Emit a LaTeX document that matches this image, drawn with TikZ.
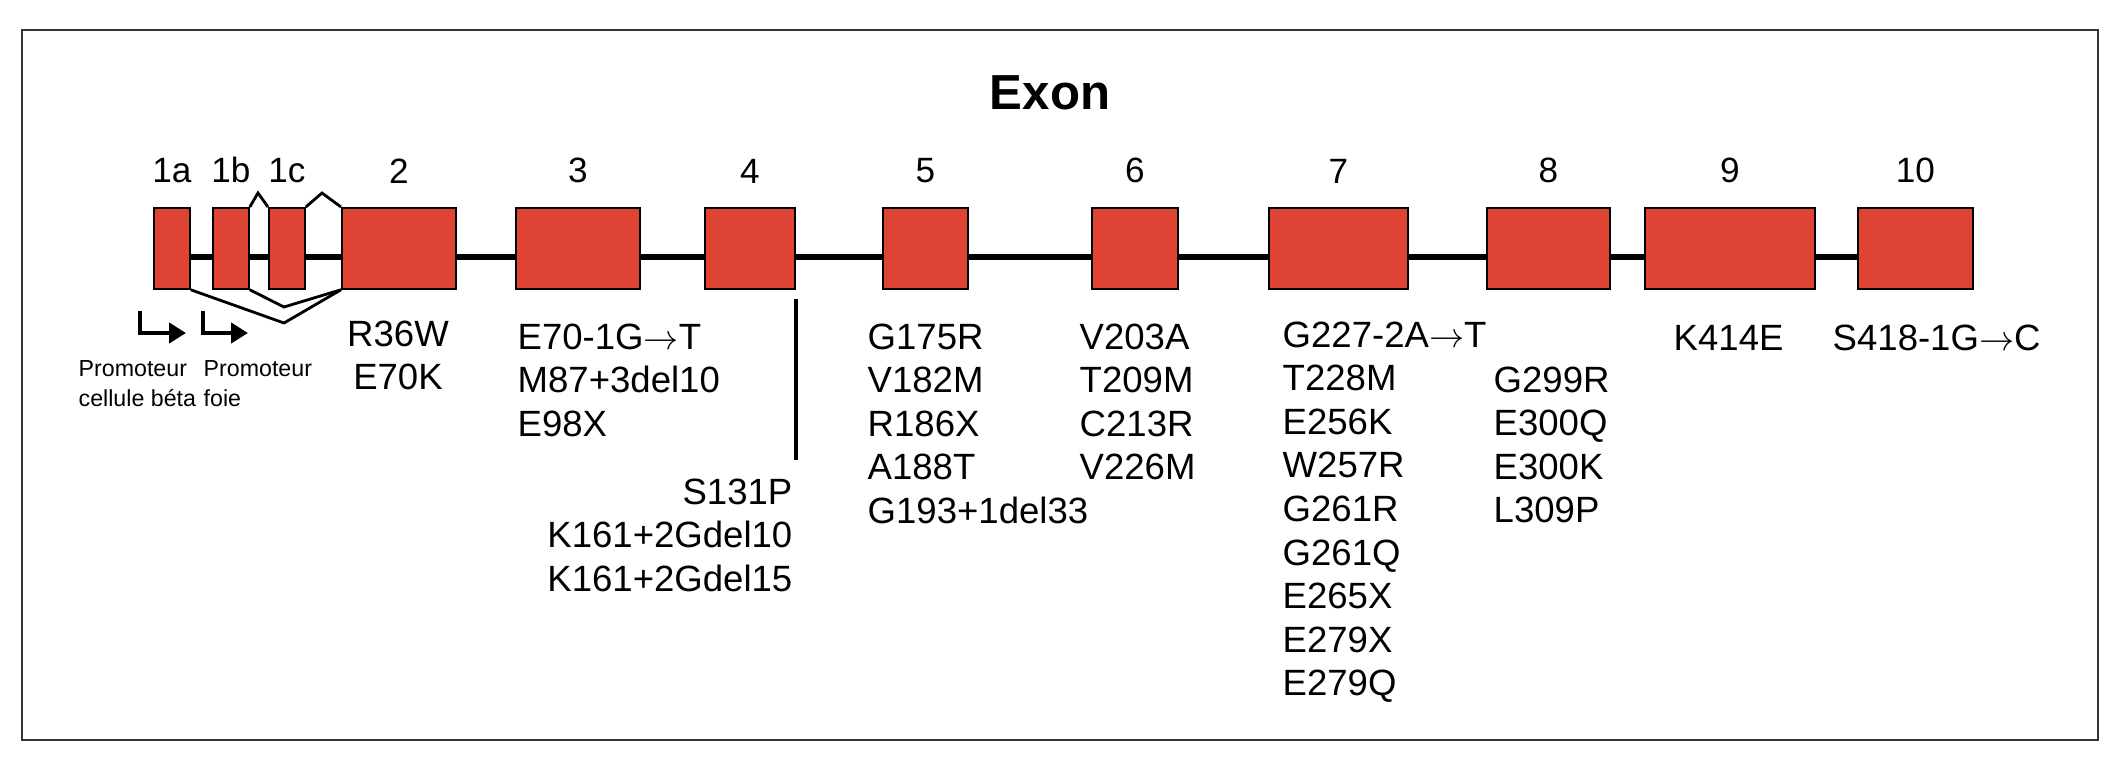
\documentclass[tikz,border=0pt]{standalone}
\usepackage{fontspec}
\setmainfont{Liberation Sans}
\usetikzlibrary{positioning, arrows.meta}
\definecolor{exonred}{RGB}{221,68,52}

\begin{document}
\begin{tikzpicture}[
  x=0.1mm, y=-0.1mm,
  exon/.style={draw, line width=0.5pt, fill=exonred, anchor=north west,
               minimum height=8.1mm, inner sep=0pt},
  num/.style={inner sep=0pt, font=\fontsize{10}{12}\selectfont},
  muts/.style={anchor=north west, align=left, inner sep=0pt,
               font=\fontsize{10.4}{12.4}\selectfont},
  splice/.style={line width=0.8pt},
  prom/.style={line width=1.3pt, -{Triangle[length=1.7mm, width=2mm]}},
  promtext/.style={anchor=north west, align=left, inner sep=0pt,
                   font=\fontsize{6.6}{8.5}\selectfont}
]
\useasboundingbox (0,0) rectangle (2117,764);
\draw[line width=0.8pt, black!80] (22,30) rectangle (2098,740);

\node[anchor=base, font=\fontsize{14}{16}\selectfont\bfseries] (title) at (1050,109) {Exon};

\coordinate (lnstart) at (171,257);
\coordinate (lnend)   at (1914,257);
\draw[line width=1.5pt] (lnstart) -- (lnend);

\node[exon, minimum width=3.6mm]  (e1a) at (153,207) {};
\node[exon, minimum width=3.6mm]  (e1b) at (212,207) {};
\node[exon, minimum width=3.6mm]  (e1c) at (268,207) {};
\node[exon, minimum width=11.4mm] (e2)  at (341,207) {};
\node[exon, minimum width=12.4mm] (e3)  at (515,207) {};
\node[exon, minimum width=9.0mm]  (e4)  at (704,207) {};
\node[exon, minimum width=8.5mm]  (e5)  at (882,207) {};
\node[exon, minimum width=8.6mm]  (e6)  at (1091,207) {};
\node[exon, minimum width=13.9mm] (e7)  at (1268,207) {};
\node[exon, minimum width=12.3mm] (e8)  at (1486,207) {};
\node[exon, minimum width=17.0mm] (e9)  at (1644,207) {};
\node[exon, minimum width=11.5mm] (e10) at (1857,207) {};

\node[num, above=2.3mm of e1a] (n1a) {1a};
\node[num, above=2.3mm of e1b] (n1b) {1b};
\node[num, above=2.3mm of e1c] (n1c) {1c};
\node[num, above=2.3mm of e2]  (n2)  {2};
\node[num, above=2.3mm of e3]  (n3)  {3};
\node[num, above=2.3mm of e4]  (n4)  {4};
\node[num, above=2.3mm of e5]  (n5)  {5};
\node[num, above=2.3mm of e6]  (n6)  {6};
\node[num, above=2.3mm of e7]  (n7)  {7};
\node[num, above=2.3mm of e8]  (n8)  {8};
\node[num, above=2.3mm of e9]  (n9)  {9};
\node[num, above=2.3mm of e10] (n10) {10};

\coordinate (pk1)  at (258,193);
\coordinate (pk2)  at (322,193);
\coordinate (vin)  at (284,307);
\coordinate (vout) at (284,323);
\draw[splice] (e1b.north east) -- (pk1) -- (e1c.north west);
\draw[splice] (e1c.north east) -- (pk2) -- (e2.north west);
\draw[splice] (e1a.south east) -- (vout) -- (e2.south west);
\draw[splice] (e1b.south east) -- (vin) -- (e2.south west);

\coordinate (pbeta)    at (140,311);
\coordinate (pbetaend) at (186,333);
\coordinate (pfoie)    at (203,311);
\coordinate (pfoieend) at (248,333);
\draw[prom] (pbeta) |- (pbetaend);
\draw[prom] (pfoie) |- (pfoieend);
\node[promtext] (tbeta) at (78,360)  {Promoteur\\cellule béta};
\node[promtext] (tfoie) at (203,360) {Promoteur\\foie};

\draw[line width=1.1pt] ([yshift=-0.9mm]e4.south east) -- ++(0,161);

\node[muts, anchor=north, align=center] (m2) at (398,320) {R36W\\E70K};
\node[muts] (m3) at (517,323) {E70-1G$\rightarrow$T\\M87+3del10\\E98X};
\node[muts, anchor=north east, align=right] (m4) at (793,478) {S131P\\K161+2Gdel10\\K161+2Gdel15};
\node[muts] (m5) at (867,323) {G175R\\V182M\\R186X\\A188T\\G193+1del33};
\node[muts] (m6) at (1079,323) {V203A\\T209M\\C213R\\V226M};
\node[muts] (m7) at (1282,321) {G227-2A$\rightarrow$T\\T228M\\E256K\\W257R\\G261R\\G261Q\\E265X\\E279X\\E279Q};
\node[muts] (m8) at (1493,366) {G299R\\E300Q\\E300K\\L309P};
\node[muts, anchor=base west] (m9) at (1673,350) {K414E};
\node[muts, anchor=base west] (m10) at (1832,350) {S418-1G$\rightarrow$C};
\end{tikzpicture}
\end{document}
